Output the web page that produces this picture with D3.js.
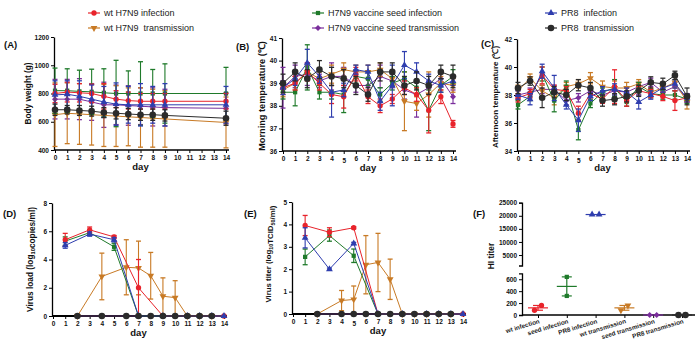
<!DOCTYPE html>
<html><head><meta charset="utf-8">
<script src="https://cdn.jsdelivr.net/npm/d3@7"></script>
<style>
body{margin:0;background:#fff;}
text{font-family:"Liberation Sans",Arial,sans-serif;}
</style></head><body>
<svg id="chart" width="700" height="354"></svg>
<script>
// series: wt inf, wt trans, seed inf, seed trans, PR8 inf, PR8 trans
const seriesNames = ["wt H7N9 infection", "wt H7N9  transmission", "H7N9 vaccine seed infection",
  "H7N9 vaccine seed transmission", "PR8  infection", "PR8  transmission"];
const seriesColors = ["#e8232b", "#c87a25", "#1f7a2a", "#7a2e9c", "#2e3dae", "#2b2b2b"];

const weightDays = [0, 1, 2, 3, 4, 5, 6, 7, 8, 9, 14];
const weightMean = [
  [800, 810, 805, 800, 780, 760, 750, 745, 745, 745, 745],
  [650, 660, 655, 650, 645, 640, 635, 630, 625, 620, 595],
  [820, 820, 815, 812, 805, 800, 800, 800, 800, 800, 800],
  [760, 760, 760, 740, 720, 720, 715, 710, 705, 700, 695],
  [790, 795, 780, 760, 740, 725, 720, 720, 720, 720, 720],
  [685, 685, 680, 675, 665, 660, 655, 650, 650, 645, 625]];
const weightSd = [
  [65, 70, 65, 65, 90, 60, 60, 55, 55, 55, 55],
  [225, 215, 215, 215, 220, 215, 205, 210, 205, 200, 180],
  [160, 155, 150, 160, 170, 235, 160, 225, 170, 210, 185],
  [140, 140, 145, 130, 160, 140, 140, 130, 135, 130, 110],
  [100, 95, 110, 100, 110, 150, 130, 150, 130, 150, 130],
  [40, 30, 35, 35, 35, 40, 40, 40, 40, 40, 50]];

const tempDays = d3.range(0, 15);
const morningMean = [
  [38.8, 39.0, 39.5, 39.0, 38.5, 38.4, 39.4, 38.4, 38.0, 38.3, 38.8, 38.5, 37.8, 38.4, 37.2],
  [38.7, 39.0, 39.5, 39.2, 39.4, 39.6, 39.5, 39.5, 39.6, 39.2, 38.2, 38.1, 38.5, 39.0, 38.9],
  [38.6, 38.6, 39.7, 38.6, 38.6, 38.5, 39.3, 39.2, 38.5, 39.0, 39.2, 38.8, 37.8, 38.9, 39.3],
  [38.8, 39.3, 39.4, 39.1, 39.3, 39.3, 38.9, 38.9, 39.3, 39.1, 38.7, 38.5, 38.8, 39.2, 38.4],
  [38.8, 39.2, 39.9, 39.3, 38.6, 38.7, 39.6, 39.5, 38.2, 38.9, 39.8, 39.5, 39.1, 38.9, 39.1],
  [39.0, 39.5, 39.2, 39.6, 39.3, 39.2, 38.9, 38.5, 39.5, 39.5, 38.9, 39.1, 38.9, 39.5, 39.3]];
const morningSd = [
  [0.3, 0.3, 0.4, 0.3, 0.4, 0.5, 0.3, 0.3, 0.3, 0.2, 0.3, 0.3, 1.0, 0.3, 0.15],
  [0.3, 0.3, 0.3, 0.3, 0.4, 0.3, 0.3, 0.3, 0.3, 0.3, 1.3, 0.3, 1.0, 0.3, 0.3],
  [0.3, 0.6, 1.0, 0.3, 0.3, 0.8, 0.3, 0.3, 0.3, 0.3, 0.3, 0.3, 0.9, 0.3, 0.3],
  [0.9, 0.5, 0.5, 0.3, 0.6, 0.4, 0.3, 0.3, 0.5, 0.3, 0.4, 1.0, 0.3, 0.3, 0.3],
  [0.3, 0.3, 0.6, 0.3, 1.1, 0.3, 0.2, 0.3, 0.4, 0.9, 0.6, 0.4, 0.3, 0.3, 0.2],
  [0.4, 0.4, 0.4, 0.4, 0.4, 0.4, 0.4, 0.3, 0.4, 0.4, 0.4, 0.4, 0.4, 0.3, 0.5]];

const afternoonMean = [
  [37.8, 38.1, 39.4, 38.4, 38.3, 36.7, 38.1, 37.7, 38.6, 37.6, 38.3, 38.1, 37.9, 37.6, 37.8],
  [38.3, 39.2, 38.3, 37.8, 38.6, 38.8, 39.2, 38.6, 38.5, 38.5, 38.8, 38.2, 38.5, 38.9, 37.5],
  [37.3, 37.9, 39.5, 37.6, 38.6, 35.5, 37.4, 38.2, 38.5, 37.5, 38.6, 38.1, 38.0, 38.0, 37.7],
  [38.0, 38.2, 38.4, 38.4, 37.6, 37.8, 38.3, 38.0, 38.3, 38.2, 38.6, 38.9, 38.2, 38.6, 37.8],
  [38.0, 37.7, 39.7, 38.5, 37.3, 36.2, 37.9, 38.3, 38.4, 38.2, 37.5, 38.0, 38.5, 38.8, 37.8],
  [38.5, 39.0, 37.8, 38.2, 38.0, 38.7, 38.5, 37.6, 37.7, 37.9, 38.3, 38.9, 38.8, 39.4, 37.9]];
const afternoonSd = [
  [0.3, 0.3, 0.6, 0.3, 0.3, 0.5, 0.3, 0.3, 1.2, 0.4, 0.3, 0.3, 0.3, 0.7, 0.3],
  [0.4, 0.3, 0.4, 0.5, 0.3, 0.3, 0.4, 0.4, 0.5, 0.4, 0.3, 0.3, 0.4, 0.4, 0.5],
  [0.3, 0.3, 0.5, 0.8, 0.4, 0.7, 0.3, 0.3, 0.6, 0.3, 0.3, 0.3, 0.3, 0.3, 0.3],
  [0.3, 0.3, 0.3, 0.3, 0.3, 0.3, 0.3, 0.3, 0.3, 0.3, 0.3, 0.3, 0.3, 0.3, 0.3],
  [0.3, 0.4, 0.5, 0.9, 0.3, 0.8, 0.3, 0.3, 0.4, 0.3, 0.5, 0.3, 0.3, 0.3, 0.3],
  [0.4, 0.3, 0.7, 0.4, 0.4, 0.4, 0.4, 0.4, 0.4, 0.4, 0.4, 0.4, 0.4, 0.3, 0.6]];

const infDays = [1, 3, 5, 7, 9, 11, 12, 13, 14];
const loadTransDays = [2, 4, 6, 7, 8, 9, 10, 11, 12, 13];
const loadMean = [
  [5.4, 6.1, 5.6, 2.0, 0, 0, 0, 0, 0],
  [0, 2.8, 3.45, 3.4, 2.85, 1.4, 1.3, 0, 0, 0],
  [5.3, 5.9, 4.9, 0, 0, 0, 0, 0, 0],
  [0, 0, 0, 0, 0, 0, 0, 0, 0, 0],
  [5.0, 5.8, 5.4, 0, 0, 0, 0, 0, 0],
  [0, 0, 0, 0, 0, 0, 0, 0, 0, 0]];
const loadSd = [
  [0.45, 0.2, 0.1, 2.0, 0, 0, 0, 0, 0],
  [0, 1.65, 1.95, 1.9, 1.65, 1.3, 1.2, 0, 0, 0],
  [0.3, 0.15, 0.25, 0, 0, 0, 0, 0, 0],
  [0, 0, 0, 0, 0, 0, 0, 0, 0, 0],
  [0.2, 0.15, 0.15, 0, 0, 0, 0, 0, 0],
  [0, 0, 0, 0, 0, 0, 0, 0, 0, 0]];

const titerTransDays = [2, 4, 5, 6, 7, 8, 9, 10, 11, 12, 13];
const titerMean = [
  [3.95, 3.65, 3.85, 0, 0, 0, 0, 0, 0],
  [0, 0.6, 0.65, 2.2, 2.3, 1.55, 0, 0, 0, 0, 0],
  [2.55, 3.5, 2.6, 0, 0, 0, 0, 0, 0],
  [0, 0, 0, 0, 0, 0, 0, 0, 0, 0, 0],
  [3.4, 2.0, 3.15, 0, 0, 0, 0, 0, 0],
  [0, 0, 0, 0, 0, 0, 0, 0, 0, 0, 0]];
const titerSd = [
  [0.45, 0.2, 0.05, 0, 0, 0, 0, 0, 0],
  [0, 0.45, 0.6, 1.3, 1.3, 0.9, 0, 0, 0, 0, 0],
  [0.35, 0.25, 0.3, 0, 0, 0, 0, 0, 0],
  [0, 0, 0, 0, 0, 0, 0, 0, 0, 0, 0],
  [0.45, 0.05, 0.05, 0, 0, 0, 0, 0, 0],
  [0, 0, 0, 0, 0, 0, 0, 0, 0, 0, 0]];

const hiGroups = ["wt infection", "seed infection", "PR8 infection", "wt transmission", "seed transmission", "PR8 transmission"];
const hiSeries = [0, 2, 4, 1, 3, 5];
const hiValues = [[160, 80], [640, 320], [20480, 20480], [160, 80], [0, 0], [0, 0]];

const svg = d3.select("#chart");
svg.append("rect").attr("width", 700).attr("height", 354).attr("fill", "#fff");

const symbolFor = (s) => {
  const types = [d3.symbolCircle, d3.symbolTriangle, d3.symbolSquare, d3.symbolSquare, d3.symbolTriangle, d3.symbolCircle];
  const sizes = [22, 20, 18, 18, 20, 34];
  return d3.symbol().type(types[s]).size(sizes[s])();
};
const rotFor = (s) => (s === 1 ? 180 : s === 3 ? 45 : 0);
const drawOrder = [3, 1, 2, 0, 4, 5];
const fmt = d3.format("d");

function styleAxis(sel) {
  sel.selectAll("path.domain").attr("stroke", "#000").attr("stroke-width", 1.3);
  sel.selectAll(".tick line").attr("stroke", "#000").attr("stroke-width", 1);
  sel.selectAll(".tick text").attr("font-size", 6.5).attr("font-weight", "bold").attr("fill", "#111")
    .attr("font-family", '"Liberation Sans",Arial,sans-serif');
}

function yTitle(g, x, y, parts, size) {
  const t = g.append("text").attr("transform", `translate(${x},${y}) rotate(-90)`)
    .attr("text-anchor", "middle").attr("font-size", size).attr("font-weight", "bold").attr("fill", "#111");
  parts.forEach((p) => {
    if (p.sub) {
      t.append("tspan").attr("font-size", size * 0.7).attr("dy", 2).text(p.sub);
      t.append("tspan").attr("dy", -2).text("");
    } else t.append("tspan").text(p.t);
  });
}

function linePanel(cfg) {
  const g = svg.append("g");
  const x = d3.scaleLinear().domain([0, 14]).range([cfg.x0, cfg.x1]);
  const y = d3.scaleLinear().domain(cfg.yDomain).range([cfg.yBot, cfg.yTop]);

  const ax = g.append("g").attr("transform", `translate(${cfg.x0 - 1},0)`)
    .call(d3.axisLeft(y).tickValues(cfg.yTicks).tickFormat(fmt).tickSize(3).tickSizeOuter(0).tickPadding(2));
  styleAxis(ax);
  const bx = g.append("g").attr("transform", `translate(0,${cfg.yBot})`)
    .call(d3.axisBottom(x).tickValues(d3.range(15)).tickFormat(fmt).tickSize(3).tickSizeOuter(0).tickPadding(2));
  bx.select("path.domain").attr("d", `M${cfg.x0 - 1},0H${cfg.x1 + 3}`);
  styleAxis(bx);
  if (cfg.lowFive) bx.selectAll(".tick text").filter((d) => d === 5).attr("dy", "1.15em");
  if (cfg.thickBase) bx.select("path.domain").attr("stroke-width", 2);

  drawOrder.forEach((s) => {
    const days = cfg.days(s);
    const pts = days.map((d, i) => ({ d, m: cfg.mean[s][i], sd: cfg.sd[s][i] }));
    const c = seriesColors[s];
    const sg = g.append("g");
    sg.append("path").datum(pts).attr("fill", "none").attr("stroke", c).attr("stroke-width", 1)
      .attr("d", d3.line().x((p) => x(p.d)).y((p) => y(p.m)));
    const eb = sg.selectAll(".eb").data(pts.filter((p) => p.sd > 0)).join("g");
    eb.append("line").attr("x1", (p) => x(p.d)).attr("x2", (p) => x(p.d))
      .attr("y1", (p) => y(p.m - p.sd)).attr("y2", (p) => y(p.m + p.sd))
      .attr("stroke", c).attr("stroke-width", 1.1);
    [1, -1].forEach((k) => {
      eb.append("line").attr("x1", (p) => x(p.d) - 2.5).attr("x2", (p) => x(p.d) + 2.5)
        .attr("y1", (p) => y(p.m + k * p.sd)).attr("y2", (p) => y(p.m + k * p.sd))
        .attr("stroke", c).attr("stroke-width", 1.3);
    });
    sg.selectAll(".mk").data(pts).join("path")
      .attr("transform", (p) => `translate(${x(p.d)},${y(p.m)}) rotate(${rotFor(s)})`)
      .attr("d", symbolFor(s)).attr("fill", c);
  });

  g.append("text").attr("x", (cfg.x0 + cfg.x1) / 2).attr("y", cfg.yBot + 20)
    .attr("text-anchor", "middle").attr("font-size", 9.5).attr("font-weight", "bold").attr("fill", "#111").text("day");
  yTitle(g, cfg.titleX, (cfg.yTop + cfg.yBot) / 2 + (cfg.titleDy || 0), cfg.title, cfg.titleSize);
  g.append("text").attr("x", cfg.lab[0]).attr("y", cfg.lab[1]).attr("font-size", 9.5)
    .attr("font-weight", "bold").attr("fill", "#111").text(cfg.label);
}

linePanel({ x0: 55, x1: 226, yTop: 37, yBot: 150, yDomain: [400, 1200], yTicks: d3.range(400, 1201, 200),
  days: () => weightDays, mean: weightMean, sd: weightSd, titleX: 31, title: [{ t: "Body weight (g)" }],
  titleSize: 8.3, label: "(A)", lab: [4, 48] });
linePanel({ x0: 283, x1: 453, yTop: 38, yBot: 151, yDomain: [36, 41], yTicks: d3.range(36, 42),
  days: () => tempDays, mean: morningMean, sd: morningSd, titleX: 265, title: [{ t: "Morning temperature (℃)" }],
  titleSize: 9.2, label: "(B)", lab: [236, 50], lowFive: true, titleDy: 1.5 });
linePanel({ x0: 518, x1: 687, yTop: 39, yBot: 151, yDomain: [34, 42], yTicks: d3.range(34, 43, 2),
  days: () => tempDays, mean: afternoonMean, sd: afternoonSd, titleX: 498, title: [{ t: "Afternoon temperature (℃)" }],
  titleSize: 8, label: "(C)", lab: [481, 47], lowFive: true, titleDy: 2 });
linePanel({ x0: 53, x1: 224, yTop: 203, yBot: 316, yDomain: [0, 8], yTicks: d3.range(0, 9, 2),
  days: (s) => (s % 2 === 0 ? infDays : loadTransDays), mean: loadMean, sd: loadSd, titleX: 33,
  title: [{ t: "Virus load (log" }, { sub: "10" }, { t: "copies/ml)" }], titleSize: 8.3,
  label: "(D)", lab: [3, 217], thickBase: true });
linePanel({ x0: 293, x1: 463, yTop: 202, yBot: 314, yDomain: [0, 5], yTicks: d3.range(0, 6),
  days: (s) => (s % 2 === 0 ? infDays : titerTransDays), mean: titerMean, sd: titerSd, titleX: 271,
  title: [{ t: "Virus titer (log" }, { sub: "10" }, { t: "TCID" }, { sub: "50" }, { t: "/ml)" }], titleSize: 7.8,
  label: "(E)", lab: [244, 217], thickBase: true, lowFive: true, titleDy: -4 });

// Panel F: broken y axis
(function () {
  const g = svg.append("g");
  const axX = 522;
  const yHi = d3.scaleLinear().domain([1000, 25000]).range([265.5, 202.7]);
  const yLo = d3.scaleLinear().domain([0, 700]).range([315, 273.3]);
  const yv = (v) => (v >= 1000 ? yHi(v) : yLo(v));
  const x = d3.scalePoint().domain(hiGroups).range([538, 682]);

  const a1 = g.append("g").attr("transform", `translate(${axX},0)`)
    .call(d3.axisLeft(yHi).tickValues([5000, 10000, 15000, 20000, 25000]).tickFormat(fmt).tickSize(3).tickSizeOuter(3).tickPadding(2));
  styleAxis(a1);
  const a2 = g.append("g").attr("transform", `translate(${axX},0)`)
    .call(d3.axisLeft(yLo).tickValues([0, 200, 400, 600]).tickFormat(fmt).tickSize(3).tickSizeOuter(3).tickPadding(2));
  styleAxis(a2);
  const bx = g.append("g").attr("transform", "translate(0,315)")
    .call(d3.axisBottom(x).tickSize(3).tickSizeOuter(0).tickFormat(""));
  bx.select("path.domain").attr("d", `M${axX},0H695`);
  styleAxis(bx);
  bx.select("path.domain").attr("stroke-width", 1.6);

  g.selectAll(".xl").data(hiGroups).join("text")
    .attr("transform", (d) => `translate(${x(d) + 2},${323}) rotate(-17)`)
    .attr("text-anchor", "end").attr("font-size", 6.3).attr("font-weight", "bold").attr("fill", "#222").text((d) => d);

  hiGroups.forEach((grp, i) => {
    const s = hiSeries[i];
    const c = seriesColors[s];
    const vals = hiValues[i];
    const cx = x(grp);
    const mean = d3.mean(vals);
    const [lo, hi] = d3.extent(vals);
    if (hi > lo) {
      g.append("line").attr("x1", cx).attr("x2", cx).attr("y1", yv(lo)).attr("y2", yv(hi)).attr("stroke", c).attr("stroke-width", 1.2);
      [lo, hi].forEach((v) => g.append("line").attr("x1", cx - 5).attr("x2", cx + 5).attr("y1", yv(v)).attr("y2", yv(v))
        .attr("stroke", c).attr("stroke-width", 1.2));
    }
    g.append("line").attr("x1", cx - 10).attr("x2", cx + 10).attr("y1", yv(mean)).attr("y2", yv(mean))
      .attr("stroke", c).attr("stroke-width", 1.2);
    vals.forEach((v, j) => {
      const off = hi > lo && s === 2 ? 0 : (j === 0 ? 3.5 : -3.5);
      g.append("path").attr("transform", `translate(${cx + off},${yv(v)}) rotate(${rotFor(s)})`)
        .attr("d", symbolFor(s)).attr("fill", c);
    });
  });

  yTitle(g, 494, 256, [{ t: "HI titer" }], 8.3);
  g.append("text").attr("x", 473).attr("y", 217).attr("font-size", 9.5).attr("font-weight", "bold").attr("fill", "#111").text("(F)");
})();

// legend
const legendPos = [[88, 13], [88, 28], [312, 13], [312, 28], [545, 13], [545, 28]];
seriesNames.forEach((name, s) => {
  const [lx, ly] = legendPos[s];
  const c = seriesColors[s];
  const lg = svg.append("g");
  lg.append("line").attr("x1", lx).attr("x2", lx + 12).attr("y1", ly).attr("y2", ly).attr("stroke", c).attr("stroke-width", 1.2);
  lg.append("path").attr("transform", `translate(${lx + 6},${ly}) rotate(${rotFor(s)})`).attr("d", symbolFor(s)).attr("fill", c);
  lg.append("text").attr("x", lx + 16).attr("y", ly + 3.2).attr("font-size", 9).attr("fill", "#222")
    .style("white-space", "pre").text(name);
});
</script></body></html>
